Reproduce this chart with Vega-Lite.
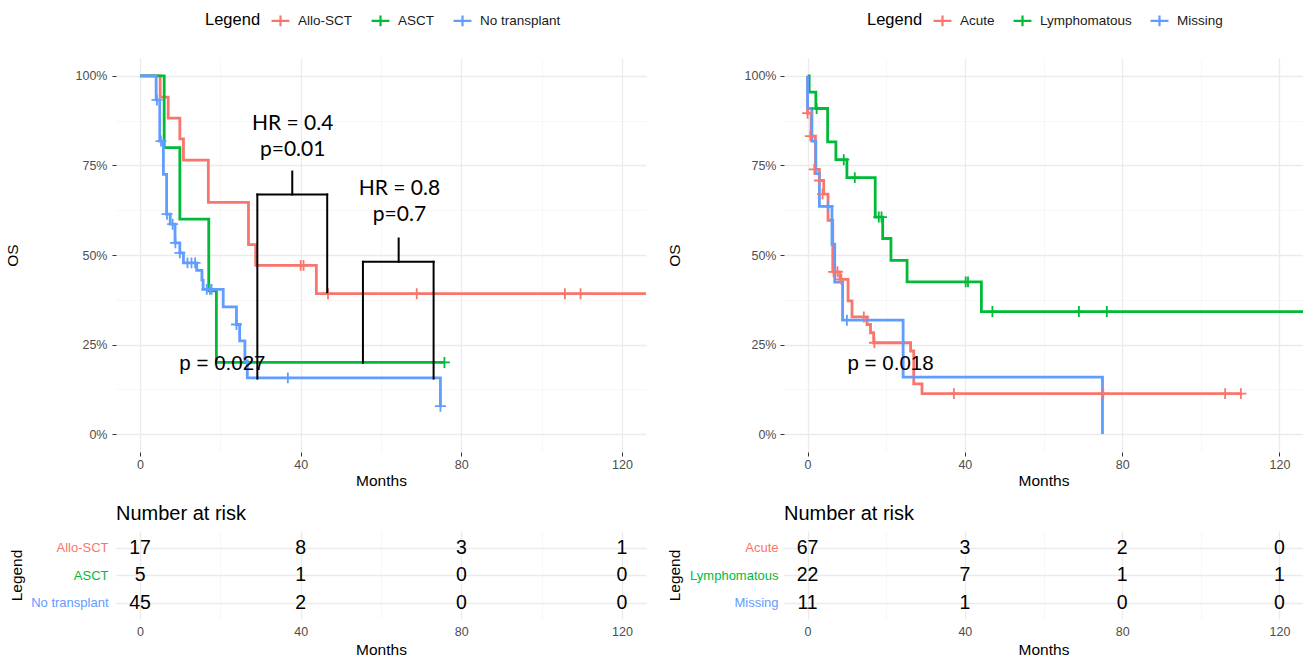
{
"$schema": "https://vega.github.io/schema/vega-lite/v6.json",
"padding": {"left": 5, "top": 10, "right": 0, "bottom": 0},
"config": {
 "view": {"stroke": null},
 "font": "Liberation Sans",
 "axis": {"domain": false, "labelColor": "#4D4D4D", "labelFontSize": 12.5, "titleFontSize": 15.5, "titleFontWeight": "normal", "titleColor": "#000000", "tickColor": "#333333", "labelFont": "Liberation Sans", "titleFont": "Liberation Sans", "labelOverlap": false},
 "title": {"font": "Liberation Sans", "fontWeight": "normal", "fontSize": 20, "color": "#000000", "anchor": "start", "frame": "group"}
},
"datasets": {
 "kmA": [
  {"g":"Allo-SCT","i":0,"t":0,"s":1},{"g":"Allo-SCT","i":1,"t":5.0,"s":0.941},{"g":"Allo-SCT","i":2,"t":7.0,"s":0.882},{"g":"Allo-SCT","i":3,"t":9.9,"s":0.824},{"g":"Allo-SCT","i":4,"t":10.8,"s":0.765},{"g":"Allo-SCT","i":5,"t":17.0,"s":0.647},{"g":"Allo-SCT","i":6,"t":27.0,"s":0.529},{"g":"Allo-SCT","i":7,"t":28.8,"s":0.471},{"g":"Allo-SCT","i":8,"t":43.9,"s":0.392},{"g":"Allo-SCT","i":9,"t":130,"s":0.392},
  {"g":"ASCT","i":10,"t":0,"s":1},{"g":"ASCT","i":11,"t":6.0,"s":0.8},{"g":"ASCT","i":12,"t":9.9,"s":0.6},{"g":"ASCT","i":13,"t":17.1,"s":0.4},{"g":"ASCT","i":14,"t":19.0,"s":0.2},{"g":"ASCT","i":15,"t":75.8,"s":0.2},
  {"g":"No transplant","i":16,"t":0,"s":1},{"g":"No transplant","i":17,"t":4.0,"s":0.933},{"g":"No transplant","i":18,"t":4.9,"s":0.818},{"g":"No transplant","i":19,"t":5.8,"s":0.725},{"g":"No transplant","i":20,"t":6.6,"s":0.614},{"g":"No transplant","i":21,"t":7.5,"s":0.586},{"g":"No transplant","i":22,"t":8.7,"s":0.534},{"g":"No transplant","i":23,"t":9.9,"s":0.506},{"g":"No transplant","i":24,"t":10.8,"s":0.478},{"g":"No transplant","i":25,"t":14.1,"s":0.457},{"g":"No transplant","i":26,"t":15.4,"s":0.43},{"g":"No transplant","i":27,"t":15.7,"s":0.404},{"g":"No transplant","i":28,"t":20.7,"s":0.355},{"g":"No transplant","i":29,"t":24.0,"s":0.306},{"g":"No transplant","i":30,"t":24.8,"s":0.26},{"g":"No transplant","i":31,"t":26.1,"s":0.204},{"g":"No transplant","i":32,"t":26.7,"s":0.157},{"g":"No transplant","i":33,"t":74.8,"s":0.078}
 ],
 "censA": [
  {"g":"Allo-SCT","t":40.0,"s":0.471},{"g":"Allo-SCT","t":40.7,"s":0.471},{"g":"Allo-SCT","t":46.8,"s":0.392},{"g":"Allo-SCT","t":68.9,"s":0.392},{"g":"Allo-SCT","t":105.8,"s":0.392},{"g":"Allo-SCT","t":109.7,"s":0.392},
  {"g":"ASCT","t":75.8,"s":0.2},
  {"g":"No transplant","t":4.2,"s":0.933},{"g":"No transplant","t":5.2,"s":0.818},{"g":"No transplant","t":6.7,"s":0.614},{"g":"No transplant","t":8.1,"s":0.586},{"g":"No transplant","t":8.8,"s":0.534},{"g":"No transplant","t":9.9,"s":0.506},{"g":"No transplant","t":11.8,"s":0.478},{"g":"No transplant","t":12.8,"s":0.478},{"g":"No transplant","t":13.7,"s":0.478},{"g":"No transplant","t":16.6,"s":0.404},{"g":"No transplant","t":17.4,"s":0.404},{"g":"No transplant","t":17.8,"s":0.404},{"g":"No transplant","t":24.0,"s":0.306},{"g":"No transplant","t":36.8,"s":0.157},{"g":"No transplant","t":74.8,"s":0.078}
 ],
 "bracketA": [
  {"t":29.2,"s":0.155,"t2":29.2,"s2":0.669},{"t":29.2,"s":0.669,"t2":46.6,"s2":0.669},{"t":46.6,"s":0.669,"t2":46.6,"s2":0.396},{"t":37.9,"s":0.669,"t2":37.9,"s2":0.733},
  {"t":55.5,"s":0.199,"t2":55.5,"s2":0.481},{"t":55.5,"s":0.481,"t2":73.1,"s2":0.481},{"t":73.1,"s":0.481,"t2":73.1,"s2":0.155},{"t":64.4,"s":0.481,"t2":64.4,"s2":0.546}
 ],
 "hrA": [
  {"t":38.0,"s":0.867,"label":"HR = 0.4"},{"t":38.0,"s":0.794,"label":"p=0.01"},
  {"t":64.6,"s":0.685,"label":"HR = 0.8"},{"t":64.6,"s":0.613,"label":"p=0.7"}
 ],
 "riskA": [
  {"g":"Allo-SCT","t":0,"n":"17"},{"g":"Allo-SCT","t":40,"n":"8"},{"g":"Allo-SCT","t":80,"n":"3"},{"g":"Allo-SCT","t":120,"n":"1"},
  {"g":"ASCT","t":0,"n":"5"},{"g":"ASCT","t":40,"n":"1"},{"g":"ASCT","t":80,"n":"0"},{"g":"ASCT","t":120,"n":"0"},
  {"g":"No transplant","t":0,"n":"45"},{"g":"No transplant","t":40,"n":"2"},{"g":"No transplant","t":80,"n":"0"},{"g":"No transplant","t":120,"n":"0"}
 ],
 "kmB": [
  {"g":"Acute","i":0,"t":0,"s":1},{"g":"Acute","i":1,"t":0,"s":0.896},{"g":"Acute","i":2,"t":0.9,"s":0.832},{"g":"Acute","i":3,"t":2.0,"s":0.739},{"g":"Acute","i":4,"t":3.0,"s":0.708},{"g":"Acute","i":5,"t":4.1,"s":0.67},{"g":"Acute","i":6,"t":5.2,"s":0.597},{"g":"Acute","i":7,"t":6.4,"s":0.453},{"g":"Acute","i":8,"t":8.2,"s":0.432},{"g":"Acute","i":9,"t":10.3,"s":0.372},{"g":"Acute","i":10,"t":11.3,"s":0.327},{"g":"Acute","i":11,"t":15.1,"s":0.306},{"g":"Acute","i":12,"t":16.0,"s":0.283},{"g":"Acute","i":13,"t":16.8,"s":0.255},{"g":"Acute","i":14,"t":26.2,"s":0.232},{"g":"Acute","i":15,"t":27.0,"s":0.14},{"g":"Acute","i":16,"t":29.1,"s":0.113},{"g":"Acute","i":17,"t":110.2,"s":0.113},
  {"g":"Lymphomatous","i":18,"t":0,"s":1},{"g":"Lymphomatous","i":19,"t":0.4,"s":0.955},{"g":"Lymphomatous","i":20,"t":2.1,"s":0.909},{"g":"Lymphomatous","i":21,"t":5.1,"s":0.816},{"g":"Lymphomatous","i":22,"t":7.2,"s":0.766},{"g":"Lymphomatous","i":23,"t":10.0,"s":0.716},{"g":"Lymphomatous","i":24,"t":17.2,"s":0.606},{"g":"Lymphomatous","i":25,"t":19.1,"s":0.546},{"g":"Lymphomatous","i":26,"t":21.2,"s":0.485},{"g":"Lymphomatous","i":27,"t":25.3,"s":0.425},{"g":"Lymphomatous","i":28,"t":44.2,"s":0.342},{"g":"Lymphomatous","i":29,"t":130,"s":0.342},
  {"g":"Missing","i":30,"t":0,"s":1},{"g":"Missing","i":31,"t":0,"s":0.909},{"g":"Missing","i":32,"t":1.1,"s":0.818},{"g":"Missing","i":33,"t":2.1,"s":0.727},{"g":"Missing","i":34,"t":3.0,"s":0.636},{"g":"Missing","i":35,"t":6.2,"s":0.53},{"g":"Missing","i":36,"t":6.9,"s":0.424},{"g":"Missing","i":37,"t":8.9,"s":0.318},{"g":"Missing","i":38,"t":24.3,"s":0.159},{"g":"Missing","i":39,"t":75.0,"s":0}
 ],
 "censB": [
  {"g":"Acute","t":0,"s":0.896},{"g":"Acute","t":0.7,"s":0.832},{"g":"Acute","t":1.7,"s":0.739},{"g":"Acute","t":3.0,"s":0.708},{"g":"Acute","t":3.8,"s":0.67},{"g":"Acute","t":6.6,"s":0.453},{"g":"Acute","t":7.6,"s":0.453},{"g":"Acute","t":8.6,"s":0.432},{"g":"Acute","t":14.3,"s":0.327},{"g":"Acute","t":17.0,"s":0.255},{"g":"Acute","t":37.2,"s":0.113},{"g":"Acute","t":75.2,"s":0.113},{"g":"Acute","t":106.2,"s":0.113},{"g":"Acute","t":110.2,"s":0.113},
  {"g":"Lymphomatous","t":2.3,"s":0.909},{"g":"Lymphomatous","t":9.2,"s":0.766},{"g":"Lymphomatous","t":12.0,"s":0.716},{"g":"Lymphomatous","t":18.1,"s":0.606},{"g":"Lymphomatous","t":18.8,"s":0.606},{"g":"Lymphomatous","t":40.2,"s":0.425},{"g":"Lymphomatous","t":40.8,"s":0.425},{"g":"Lymphomatous","t":47.0,"s":0.342},{"g":"Lymphomatous","t":69.0,"s":0.342},{"g":"Lymphomatous","t":76.1,"s":0.342},
  {"g":"Missing","t":5.2,"s":0.636},{"g":"Missing","t":10.0,"s":0.318}
 ],
 "riskB": [
  {"g":"Acute","t":0,"n":"67"},{"g":"Acute","t":40,"n":"3"},{"g":"Acute","t":80,"n":"2"},{"g":"Acute","t":120,"n":"0"},
  {"g":"Lymphomatous","t":0,"n":"22"},{"g":"Lymphomatous","t":40,"n":"7"},{"g":"Lymphomatous","t":80,"n":"1"},{"g":"Lymphomatous","t":120,"n":"1"},
  {"g":"Missing","t":0,"n":"11"},{"g":"Missing","t":40,"n":"1"},{"g":"Missing","t":80,"n":"0"},{"g":"Missing","t":120,"n":"0"}
 ]
},
"hconcat": [
 {"spacing": 15, "vconcat": [
  {"width": 530, "height": 394,
   "layer": [
    {"data": {"name": "kmA"},
     "mark": {"type": "line", "interpolate": "step-after", "strokeWidth": 2.8, "clip": true},
     "encoding": {
      "x": {"field": "t", "type": "quantitative", "scale": {"domain": [-6, 126], "nice": false, "zero": false},
       "axis": {"title": "Months", "values": [0,20,40,60,80,100,120], "labelExpr": "datum.value % 40 === 0 ? datum.label : ''",
        "gridColor": {"condition": {"test": "datum.value % 40 === 0", "value": "#EBEBEB"}, "value": "#F4F4F4"},
        "gridWidth": {"condition": {"test": "datum.value % 40 === 0", "value": 1.3}, "value": 0.7},
        "tickOpacity": {"condition": {"test": "datum.value % 40 === 0", "value": 1}, "value": 0},
        "tickSize": 4, "labelPadding": 2, "titlePadding": 3}},
      "y": {"field": "s", "type": "quantitative", "scale": {"domain": [-0.05, 1.05], "nice": false, "zero": false},
       "axis": {"title": "OS", "values": [0,0.125,0.25,0.375,0.5,0.625,0.75,0.875,1], "format": ".0%", "labelExpr": "(datum.value * 4) % 1 === 0 ? datum.label : ''",
        "gridColor": {"condition": {"test": "(datum.value * 4) % 1 === 0", "value": "#EBEBEB"}, "value": "#F4F4F4"},
        "gridWidth": {"condition": {"test": "(datum.value * 4) % 1 === 0", "value": 1.3}, "value": 0.7},
        "tickOpacity": {"condition": {"test": "(datum.value * 4) % 1 === 0", "value": 1}, "value": 0},
        "tickSize": 4, "labelPadding": 5, "minExtent": 90, "maxExtent": 90, "titlePadding": 6}},
      "color": {"field": "g", "type": "nominal", "scale": {"domain": ["Allo-SCT","ASCT","No transplant"], "range": ["#F8766D","#00BA38","#619CFF"]},
       "legend": {"orient": "none", "legendX": 89, "legendY": -48, "direction": "horizontal", "title": "Legend", "titleOrient": "left", "symbolType": "M-1,0L1,0M0,-0.6L0,0.6", "symbolSize": 320, "symbolStrokeWidth": 2.2, "labelFontSize": 13.5, "labelColor": "#1A1A1A", "titleFontSize": 16.5, "titleFontWeight": "normal", "titleColor": "#000000", "columnPadding": 14, "labelOffset": 7, "titlePadding": 9}},
      "order": {"field": "i", "type": "quantitative"}
     }},
    {"data": {"name": "censA"},
     "mark": {"type": "point", "shape": "M-1,0L1,0M0,-1L0,1", "filled": false, "size": 120, "strokeWidth": 1.8, "opacity": 1},
     "encoding": {"x": {"field": "t", "type": "quantitative"}, "y": {"field": "s", "type": "quantitative"}, "color": {"field": "g", "type": "nominal"}}},
    {"data": {"values": [{"t": 20.5, "s": 0.196, "label": "p = 0.027"}]},
     "mark": {"type": "text", "fontSize": 20.5, "color": "#000000", "align": "center", "baseline": "middle"},
     "encoding": {"x": {"field": "t", "type": "quantitative"}, "y": {"field": "s", "type": "quantitative"}, "text": {"field": "label", "type": "nominal"}}},
    {"data": {"name": "bracketA"},
     "mark": {"type": "rule", "color": "#000000", "strokeWidth": 2, "strokeCap": "square"},
     "encoding": {"x": {"field": "t", "type": "quantitative"}, "x2": {"field": "t2"}, "y": {"field": "s", "type": "quantitative"}, "y2": {"field": "s2"}}},
    {"data": {"name": "hrA"},
     "mark": {"type": "text", "font": "Lato", "fontSize": 21, "color": "#000000", "align": "center", "baseline": "middle"},
     "encoding": {"x": {"field": "t", "type": "quantitative"}, "y": {"field": "s", "type": "quantitative"}, "text": {"field": "label", "type": "nominal"}}}
   ]},
  {"width": 530, "height": 88,
   "title": {"text": "Number at risk", "offset": 7},
   "data": {"name": "riskA"},
   "mark": {"type": "text", "fontSize": 19.5, "color": "#000000", "baseline": "middle", "align": "center"},
   "encoding": {
    "x": {"field": "t", "type": "quantitative", "scale": {"domain": [-6, 126], "nice": false, "zero": false},
     "axis": {"title": "Months", "values": [0,20,40,60,80,100,120], "labelExpr": "datum.value % 40 === 0 ? datum.label : ''",
      "gridColor": {"condition": {"test": "datum.value % 40 === 0", "value": "#EBEBEB"}, "value": "#F4F4F4"},
      "gridWidth": {"condition": {"test": "datum.value % 40 === 0", "value": 1.3}, "value": 0.7},
      "ticks": false, "labelPadding": 6, "titlePadding": 5}},
    "y": {"field": "g", "type": "nominal", "sort": null, "scale": {"type": "point", "domain": ["Allo-SCT","ASCT","No transplant"], "padding": 0.6},
     "axis": {"title": "Legend", "ticks": false, "grid": true, "gridColor": "#EBEBEB", "gridWidth": 1.3, "labelPadding": 8, "labelFontSize": 13, "minExtent": 86, "maxExtent": 86, "titlePadding": 6,
      "labelColor": {"condition": [{"test": "datum.value === 'Allo-SCT'", "value": "#F8766D"}, {"test": "datum.value === 'ASCT'", "value": "#00BA38"}], "value": "#619CFF"}}},
    "text": {"field": "n", "type": "nominal"}
   }}
 ]},
 {"spacing": 15, "vconcat": [
  {"width": 519, "height": 394,
   "layer": [
    {"data": {"name": "kmB"},
     "mark": {"type": "line", "interpolate": "step-after", "strokeWidth": 2.8, "clip": true},
     "encoding": {
      "x": {"field": "t", "type": "quantitative", "scale": {"domain": [-6, 126], "nice": false, "zero": false},
       "axis": {"title": "Months", "values": [0,20,40,60,80,100,120], "labelExpr": "datum.value % 40 === 0 ? datum.label : ''",
        "gridColor": {"condition": {"test": "datum.value % 40 === 0", "value": "#EBEBEB"}, "value": "#F4F4F4"},
        "gridWidth": {"condition": {"test": "datum.value % 40 === 0", "value": 1.3}, "value": 0.7},
        "tickOpacity": {"condition": {"test": "datum.value % 40 === 0", "value": 1}, "value": 0},
        "tickSize": 4, "labelPadding": 2, "titlePadding": 3}},
      "y": {"field": "s", "type": "quantitative", "scale": {"domain": [-0.05, 1.05], "nice": false, "zero": false},
       "axis": {"title": "OS", "values": [0,0.125,0.25,0.375,0.5,0.625,0.75,0.875,1], "format": ".0%", "labelExpr": "(datum.value * 4) % 1 === 0 ? datum.label : ''",
        "gridColor": {"condition": {"test": "(datum.value * 4) % 1 === 0", "value": "#EBEBEB"}, "value": "#F4F4F4"},
        "gridWidth": {"condition": {"test": "(datum.value * 4) % 1 === 0", "value": 1.3}, "value": 0.7},
        "tickOpacity": {"condition": {"test": "(datum.value * 4) % 1 === 0", "value": 1}, "value": 0},
        "tickSize": 4, "labelPadding": 4, "minExtent": 96, "maxExtent": 96, "titlePadding": 6}},
      "color": {"field": "g", "type": "nominal", "scale": {"domain": ["Acute","Lymphomatous","Missing"], "range": ["#F8766D","#00BA38","#619CFF"]},
       "legend": {"orient": "none", "legendX": 83, "legendY": -48, "direction": "horizontal", "title": "Legend", "titleOrient": "left", "symbolType": "M-1,0L1,0M0,-0.6L0,0.6", "symbolSize": 320, "symbolStrokeWidth": 2.2, "labelFontSize": 13.5, "labelColor": "#1A1A1A", "titleFontSize": 16.5, "titleFontWeight": "normal", "titleColor": "#000000", "columnPadding": 14, "labelOffset": 7, "titlePadding": 9}},
      "order": {"field": "i", "type": "quantitative"}
     }},
    {"data": {"name": "censB"},
     "mark": {"type": "point", "shape": "M-1,0L1,0M0,-1L0,1", "filled": false, "size": 120, "strokeWidth": 1.8, "opacity": 1},
     "encoding": {"x": {"field": "t", "type": "quantitative"}, "y": {"field": "s", "type": "quantitative"}, "color": {"field": "g", "type": "nominal"}}},
    {"data": {"values": [{"t": 21.1, "s": 0.196, "label": "p = 0.018"}]},
     "mark": {"type": "text", "fontSize": 20.5, "color": "#000000", "align": "center", "baseline": "middle"},
     "encoding": {"x": {"field": "t", "type": "quantitative"}, "y": {"field": "s", "type": "quantitative"}, "text": {"field": "label", "type": "nominal"}}}
   ]},
  {"width": 519, "height": 88,
   "title": {"text": "Number at risk", "offset": 7},
   "data": {"name": "riskB"},
   "mark": {"type": "text", "fontSize": 19.5, "color": "#000000", "baseline": "middle", "align": "center"},
   "encoding": {
    "x": {"field": "t", "type": "quantitative", "scale": {"domain": [-6, 126], "nice": false, "zero": false},
     "axis": {"title": "Months", "values": [0,20,40,60,80,100,120], "labelExpr": "datum.value % 40 === 0 ? datum.label : ''",
      "gridColor": {"condition": {"test": "datum.value % 40 === 0", "value": "#EBEBEB"}, "value": "#F4F4F4"},
      "gridWidth": {"condition": {"test": "datum.value % 40 === 0", "value": 1.3}, "value": 0.7},
      "ticks": false, "labelPadding": 6, "titlePadding": 5}},
    "y": {"field": "g", "type": "nominal", "sort": null, "scale": {"type": "point", "domain": ["Acute","Lymphomatous","Missing"], "padding": 0.6},
     "axis": {"title": "Legend", "ticks": false, "grid": true, "gridColor": "#EBEBEB", "gridWidth": 1.3, "labelPadding": 6, "labelFontSize": 13, "minExtent": 96, "maxExtent": 96, "titlePadding": 6,
      "labelColor": {"condition": [{"test": "datum.value === 'Acute'", "value": "#F8766D"}, {"test": "datum.value === 'Lymphomatous'", "value": "#00BA38"}], "value": "#619CFF"}}},
    "text": {"field": "n", "type": "nominal"}
   }}
 ]}
],
"spacing": 21,
"resolve": {"scale": {"color": "independent"}, "legend": {"color": "independent"}}
}
